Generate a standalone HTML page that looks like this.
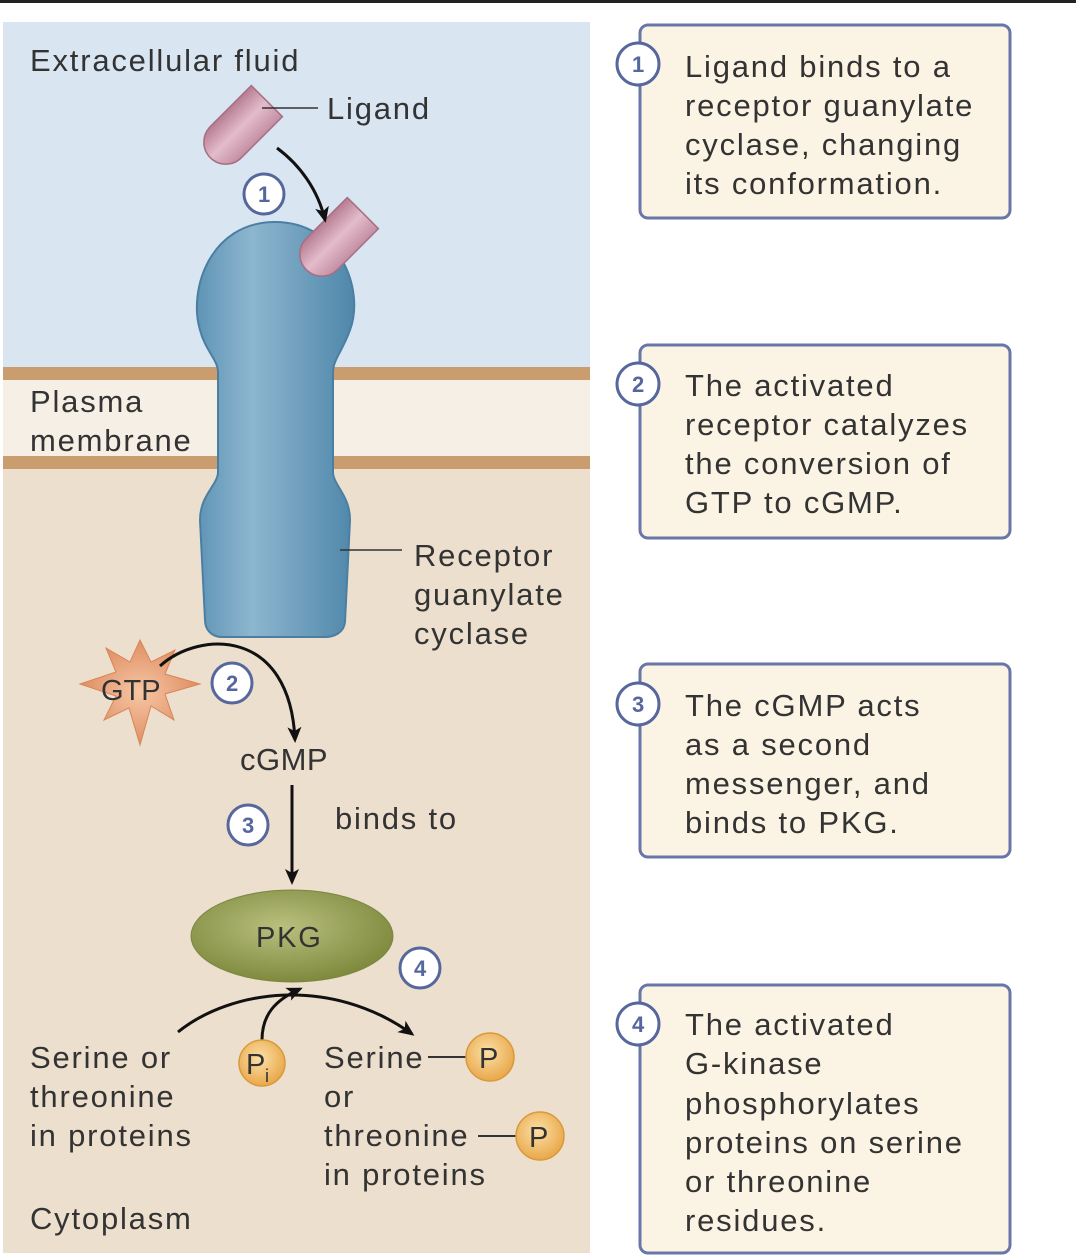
<!DOCTYPE html>
<html><head><meta charset="utf-8"><style>
html,body{margin:0;padding:0;background:#fff;}
svg{display:block;}
text{font-family:"Liberation Sans",sans-serif;fill:#333;letter-spacing:1.8px;}
</style></head><body>
<svg width="1076" height="1256" viewBox="0 0 1076 1256" xmlns="http://www.w3.org/2000/svg">
<defs>
<marker id="ah" markerWidth="16" markerHeight="16" refX="13" refY="8" orient="auto" markerUnits="userSpaceOnUse" viewBox="0 0 16 16">
<path d="M0,1 L16,8 L0,15 L4,8 z" fill="#111"/>
</marker>
<linearGradient id="rec" x1="0" x2="1" y1="0" y2="0">
<stop offset="0" stop-color="#5f94b5"/><stop offset="0.35" stop-color="#8db6cf"/><stop offset="1" stop-color="#4f87aa"/>
</linearGradient>
<linearGradient id="lig" x1="0" x2="1"><stop offset="0" stop-color="#b87d92"/><stop offset="0.5" stop-color="#e3bccb"/><stop offset="1" stop-color="#c48ea2"/></linearGradient>
<radialGradient id="pkg" cx="0.45" cy="0.4" r="0.6"><stop offset="0" stop-color="#b9c07e"/><stop offset="1" stop-color="#7f8a3e"/></radialGradient>
<radialGradient id="pc" cx="0.45" cy="0.4" r="0.6"><stop offset="0" stop-color="#fbe0a8"/><stop offset="1" stop-color="#e9a84a"/></radialGradient>
<radialGradient id="gtp" cx="0.5" cy="0.5" r="0.5"><stop offset="0" stop-color="#f6c6a4"/><stop offset="1" stop-color="#df8f63"/></radialGradient>
</defs>
<rect x="0" y="0" width="1076" height="3" fill="#222"/>
<rect x="3" y="22" width="587" height="350" fill="#d9e5f1"/>
<rect x="3" y="372" width="587" height="90" fill="#f6efe6"/>
<rect x="3" y="462" width="587" height="791" fill="#ecdfcd"/>
<rect x="3" y="367" width="587" height="13" fill="#c99d6e"/>
<rect x="3" y="456" width="587" height="13" fill="#c99d6e"/>
<!-- receptor -->
<path d="M218,372 C218,360 205,350 200,330 C188,290 210,222 275,222 C340,222 365,290 350,330 C343,350 333,360 333,372 L333,472 C333,485 350,495 350,520 L345,622 C344,632 335,637 325,637 L222,637 C212,637 205,630 205,620 L200,520 C200,495 218,485 218,472 Z" fill="url(#rec)" stroke="#4a7fa3" stroke-width="2"/>
<!-- ligands -->
<g transform="translate(240,128) rotate(45)"><path d="M-22,-38 L22,-38 L22,20 A22,22 0 0 1 -22,20 Z" fill="url(#lig)" stroke="#a66f84" stroke-width="1.5"/></g>
<g transform="translate(336,240) rotate(45)"><path d="M-22,-38 L22,-38 L22,20 A22,22 0 0 1 -22,20 Z" fill="url(#lig)" stroke="#a66f84" stroke-width="1.5"/></g>
<line x1="262" y1="108" x2="318" y2="108" stroke="#333" stroke-width="1.5"/>
<text x="327" y="119" font-size="31">Ligand</text>
<path d="M277,148 C300,165 318,190 325,220" fill="none" stroke="#111" stroke-width="3" marker-end="url(#ah)"/>
<text x="30" y="71" font-size="31">Extracellular fluid</text>
<text x="30" y="412" font-size="31">Plasma</text>
<text x="30" y="451" font-size="31">membrane</text>
<line x1="340" y1="550" x2="402" y2="550" stroke="#333" stroke-width="1.5"/>
<text x="414" y="566" font-size="31">Receptor</text>
<text x="414" y="605" font-size="31">guanylate</text>
<text x="414" y="644" font-size="31">cyclase</text>
<!-- GTP star -->
<polygon points="140,640 151,662 175,650 165,674 200,684 165,694 174,720 151,706 140,745 129,708 104,720 116,696 80,684 116,672 106,648 130,662" fill="url(#gtp)" stroke="#d88558" stroke-width="1"/>
<text x="101" y="700" font-size="29" style="letter-spacing:0">GTP</text>
<path d="M160,666 C200,630 290,628 295,740" fill="none" stroke="#111" stroke-width="3" marker-end="url(#ah)"/>
<text x="240" y="770" font-size="31" style="letter-spacing:0.5px">cGMP</text>
<line x1="292" y1="785" x2="292" y2="882" stroke="#111" stroke-width="3" marker-end="url(#ah)"/>
<text x="335" y="829" font-size="31">binds to</text>
<ellipse cx="292" cy="936" rx="101" ry="46" fill="url(#pkg)" stroke="#7a8540" stroke-width="1"/>
<text x="256" y="947" font-size="29">PKG</text>
<path d="M178,1032 C230,990 330,975 412,1034" fill="none" stroke="#111" stroke-width="3" marker-end="url(#ah)"/>
<path d="M262,1040 C262,1015 275,1000 300,989" fill="none" stroke="#111" stroke-width="3" marker-end="url(#ah)"/>
<circle cx="262" cy="1063" r="23" fill="url(#pc)" stroke="#d99a3c" stroke-width="1.5"/>
<text x="246" y="1074" font-size="29" style="letter-spacing:0">P</text><text x="265" y="1082" font-size="18">i</text>
<text x="30" y="1068" font-size="31">Serine or</text>
<text x="30" y="1107" font-size="31">threonine</text>
<text x="30" y="1146" font-size="31">in proteins</text>
<text x="30" y="1229" font-size="31">Cytoplasm</text>
<text x="324" y="1068" font-size="31">Serine</text>
<text x="324" y="1107" font-size="31">or</text>
<text x="324" y="1146" font-size="31">threonine</text>
<text x="324" y="1185" font-size="31">in proteins</text>
<line x1="428" y1="1057" x2="466" y2="1057" stroke="#333" stroke-width="2"/>
<circle cx="490" cy="1057" r="24" fill="url(#pc)" stroke="#d99a3c" stroke-width="1.5"/>
<text x="479" y="1068" font-size="29" style="letter-spacing:0">P</text>
<line x1="478" y1="1136" x2="516" y2="1136" stroke="#333" stroke-width="2"/>
<circle cx="540" cy="1136" r="24" fill="url(#pc)" stroke="#d99a3c" stroke-width="1.5"/>
<text x="529" y="1147" font-size="29" style="letter-spacing:0">P</text>
<g font-size="22" font-weight="bold">
<circle cx="264" cy="194" r="20" fill="#fff" stroke="#56679e" stroke-width="3"/><text x="258" y="202" style="fill:#56679e;letter-spacing:0">1</text>
<circle cx="232" cy="683" r="20" fill="#fff" stroke="#56679e" stroke-width="3"/><text x="226" y="691" style="fill:#56679e;letter-spacing:0">2</text>
<circle cx="248" cy="825" r="20" fill="#fff" stroke="#56679e" stroke-width="3"/><text x="242" y="833" style="fill:#56679e;letter-spacing:0">3</text>
<circle cx="420" cy="968" r="20" fill="#fff" stroke="#56679e" stroke-width="3"/><text x="414" y="976" style="fill:#56679e;letter-spacing:0">4</text>
</g>
<g fill="#fbf4e4" stroke="#6876a8" stroke-width="3">
<rect x="640" y="25" width="370" height="193" rx="8"/>
<rect x="640" y="345" width="370" height="193" rx="8"/>
<rect x="640" y="664" width="370" height="193" rx="8"/>
<rect x="640" y="985" width="370" height="268" rx="8"/>
</g>
<g font-size="22" font-weight="bold">
<circle cx="638" cy="64" r="21" fill="#fff" stroke="#56679e" stroke-width="3"/><text x="632" y="72" style="fill:#56679e;letter-spacing:0">1</text>
<circle cx="638" cy="384" r="21" fill="#fff" stroke="#56679e" stroke-width="3"/><text x="632" y="392" style="fill:#56679e;letter-spacing:0">2</text>
<circle cx="638" cy="704" r="21" fill="#fff" stroke="#56679e" stroke-width="3"/><text x="632" y="712" style="fill:#56679e;letter-spacing:0">3</text>
<circle cx="638" cy="1024" r="21" fill="#fff" stroke="#56679e" stroke-width="3"/><text x="632" y="1032" style="fill:#56679e;letter-spacing:0">4</text>
</g>
<g font-size="31">
<text x="685" y="77">Ligand binds to a</text>
<text x="685" y="116">receptor guanylate</text>
<text x="685" y="155">cyclase, changing</text>
<text x="685" y="194">its conformation.</text>
<text x="685" y="396">The activated</text>
<text x="685" y="435">receptor catalyzes</text>
<text x="685" y="474">the conversion of</text>
<text x="685" y="513">GTP to cGMP.</text>
<text x="685" y="716">The cGMP acts</text>
<text x="685" y="755">as a second</text>
<text x="685" y="794">messenger, and</text>
<text x="685" y="833">binds to PKG.</text>
<text x="685" y="1035">The activated</text>
<text x="685" y="1074">G-kinase</text>
<text x="685" y="1114">phosphorylates</text>
<text x="685" y="1153">proteins on serine</text>
<text x="685" y="1192">or threonine</text>
<text x="685" y="1231">residues.</text>
</g>
</svg>
</body></html>
